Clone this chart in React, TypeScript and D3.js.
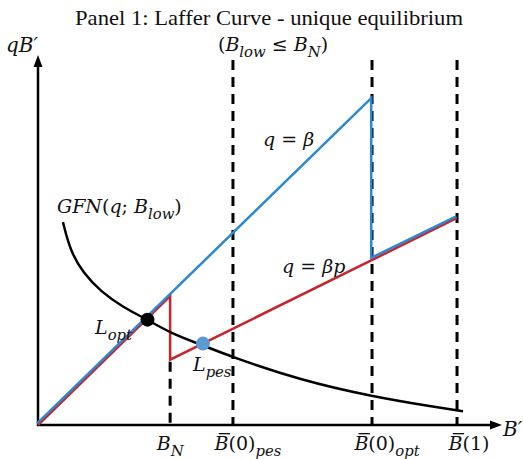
import * as d3 from "d3";
import { useEffect, useRef } from "react";

const W = 523;
const H = 459;

// thresholds on the B' axis
const tickValues = [2.86, 4.22, 7.23, 9.07];
const tickLabels = [
  [{ t: "B", i: true }, { t: "N", i: true, sub: true }],
  [{ t: "B", i: true, bar: true }, { t: "(0)" }, { t: "pes", i: true, sub: true }],
  [{ t: "B", i: true, bar: true }, { t: "(0)" }, { t: "opt", i: true, sub: true }],
  [{ t: "B", i: true, bar: true }, { t: "(1)" }],
];

// q = beta schedule
const blueX = [0, 7.23, 7.23, 9.07];
const blueY = [0, 7.07, 3.6, 4.5];

// q = beta p schedule
const redX = [0, 2.86, 2.86, 9.07];
const redY = [0, 2.8, 1.42, 4.5];

// GFN(q; B_low)
const gfnX = [0.54, 0.7, 0.98, 1.36, 1.84, 2.37, 2.86, 3.57, 4.22, 5.67, 7.23, 8.55, 9.2];
const gfnY = [4.41, 3.78, 3.3, 2.9, 2.56, 2.29, 2.0, 1.73, 1.47, 0.98, 0.62, 0.4, 0.3];

// equilibria
const eqX = [2.37, 3.57];
const eqY = [2.29, 1.77];
const eqColors = ["#000000", "#5b9bd5"];

const BLUE = "#2b88d3";
const RED = "#c8242b";
const MATH = "'DejaVu Serif', serif";

type Part = { t: string; i?: boolean; sub?: boolean; bar?: boolean };

const mathText = (g, x, y, parts: Part[], size = 19, anchor = "start") => {
  const txt = g
    .append("text")
    .attr("x", x)
    .attr("y", y)
    .attr("font-family", MATH)
    .attr("font-size", size)
    .attr("text-anchor", anchor)
    .attr("fill", "#111");
  let down = false;
  const bars = [];
  parts.forEach(p => {
    const ts = txt.append("tspan").text(p.t).attr("font-style", p.i ? "italic" : "normal");
    if (p.sub && !down) {
      ts.attr("dy", size * 0.3).attr("font-size", size * 0.78);
      down = true;
    } else if (!p.sub && down) {
      ts.attr("dy", -size * 0.3);
      down = false;
    } else if (p.sub) {
      ts.attr("font-size", size * 0.78);
    }
    if (p.bar) bars.push(ts);
  });
  // overbars drawn as lines over the letter
  bars.forEach(ts => {
    const node = ts.node();
    const n = txt.node();
    const idx = Array.from(n.childNodes).indexOf(node);
    let start = 0;
    for (let k = 0; k < idx; k++) start += (n.childNodes[k].textContent || "").length;
    const ext = n.getExtentOfChar(start);
    g.append("line")
      .attr("x1", ext.x + size * 0.22)
      .attr("x2", ext.x + ext.width + size * 0.08)
      .attr("y1", y - size * 0.86)
      .attr("y2", y - size * 0.86)
      .attr("stroke", "#111")
      .attr("stroke-width", 1.3);
  });
  return txt;
};

const drawChart = (el: SVGSVGElement) => {
  const svg = d3.select(el);
  svg.selectAll("*").remove();

  const x = d3.scaleLinear().domain([0, 10]).range([38, 500]);
  const y = d3.scaleLinear().domain([0, 8]).range([425, 57]);

  const g = svg.append("g");

  // title
  g.append("text")
    .attr("x", 269)
    .attr("y", 25)
    .attr("text-anchor", "middle")
    .attr("font-family", "'Liberation Serif', serif")
    .attr("font-size", 21)
    .attr("textLength", 388)
    .attr("lengthAdjust", "spacingAndGlyphs")
    .attr("fill", "#111")
    .text("Panel 1: Laffer Curve - unique equilibrium");

  mathText(g, 273, 51, [
    { t: "(" },
    { t: "B", i: true },
    { t: "low", i: true, sub: true },
    { t: " \u2264 " },
    { t: "B", i: true },
    { t: "N", i: true, sub: true },
    { t: ")" },
  ], 19, "middle");

  // dashed thresholds
  const dashTop = 60;
  tickValues.forEach((v, i) => {
    g.append("line")
      .attr("x1", x(v))
      .attr("x2", x(v))
      .attr("y1", i === 0 ? y(redY[2]) + 2 : dashTop)
      .attr("y2", y(0))
      .attr("stroke", "#000")
      .attr("stroke-width", 3)
      .attr("stroke-dasharray", "10,7");
  });

  // axes
  g.append("line")
    .attr("x1", x(0)).attr("x2", x(0))
    .attr("y1", y(0) + 1).attr("y2", y(8) + 8)
    .attr("stroke", "#000").attr("stroke-width", 2.5);
  g.append("path")
    .attr("d", `M${x(0)},${y(8) - 2}L${x(0) - 4.5},${y(8) + 10}L${x(0) + 4.5},${y(8) + 10}Z`)
    .attr("fill", "#000");
  g.append("line")
    .attr("x1", x(0) - 1).attr("x2", x(10) - 8)
    .attr("y1", y(0)).attr("y2", y(0))
    .attr("stroke", "#000").attr("stroke-width", 2.5);
  g.append("path")
    .attr("d", `M${x(10) + 2},${y(0)}L${x(10) - 10},${y(0) - 4.5}L${x(10) - 10},${y(0) + 4.5}Z`)
    .attr("fill", "#000");

  const line = d3.line<number>().x(d => x(d[0])).y(d => y(d[1]));

  // q = beta p
  g.append("path")
    .attr("d", line(redX.map((v, i) => [v, redY[i]])))
    .attr("fill", "none")
    .attr("stroke", RED)
    .attr("stroke-width", 2.5);

  // q = beta
  g.append("path")
    .attr("d", line(blueX.map((v, i) => [v, blueY[i]])))
    .attr("transform", "translate(-0.8,-1.6)")
    .attr("fill", "none")
    .attr("stroke", BLUE)
    .attr("stroke-width", 2.5);

  // GFN curve
  const curve = d3
    .line<number>()
    .x(d => x(d[0]))
    .y(d => y(d[1]))
    .curve(d3.curveBasis);
  g.append("path")
    .attr("d", curve(gfnX.map((v, i) => [v, gfnY[i]])))
    .attr("fill", "none")
    .attr("stroke", "#000")
    .attr("stroke-width", 2.5);

  // equilibrium dots
  g.selectAll("circle.eq")
    .data(eqX)
    .enter()
    .append("circle")
    .attr("cx", d => x(d))
    .attr("cy", (d, i) => y(eqY[i]))
    .attr("r", 7)
    .attr("fill", (d, i) => eqColors[i]);

  // labels
  mathText(g, 6, 52, [{ t: "qB\u2032", i: true }], 20);
  mathText(g, 503, 436, [{ t: "B\u2032", i: true }], 20);
  mathText(g, 263, 146, [{ t: "q", i: true }, { t: " = " }, { t: "\u03b2", i: true }], 19);
  mathText(g, 282, 273, [{ t: "q", i: true }, { t: " = " }, { t: "\u03b2p", i: true }], 19);
  mathText(g, 57, 213, [
    { t: "GFN", i: true },
    { t: "(" },
    { t: "q", i: true },
    { t: "; " },
    { t: "B", i: true },
    { t: "low", i: true, sub: true },
    { t: ")" },
  ], 19);
  mathText(g, 95, 334, [{ t: "L", i: true }, { t: "opt", i: true, sub: true }], 19);
  mathText(g, 193, 371, [{ t: "L", i: true }, { t: "pes", i: true, sub: true }], 19);

  tickValues.forEach((v, i) => {
    mathText(g, x(v) + [0, 15, 15, 12][i], 450, tickLabels[i], 19, "middle");
  });
};

export default function App() {
  const ref = useRef<SVGSVGElement>(null);
  useEffect(() => {
    if (ref.current) drawChart(ref.current);
  }, []);
  return (
    <svg
      ref={ref}
      width={W}
      height={H}
      style={{ position: "absolute", left: 0, top: 0, background: "#fff" }}
    />
  );
}
